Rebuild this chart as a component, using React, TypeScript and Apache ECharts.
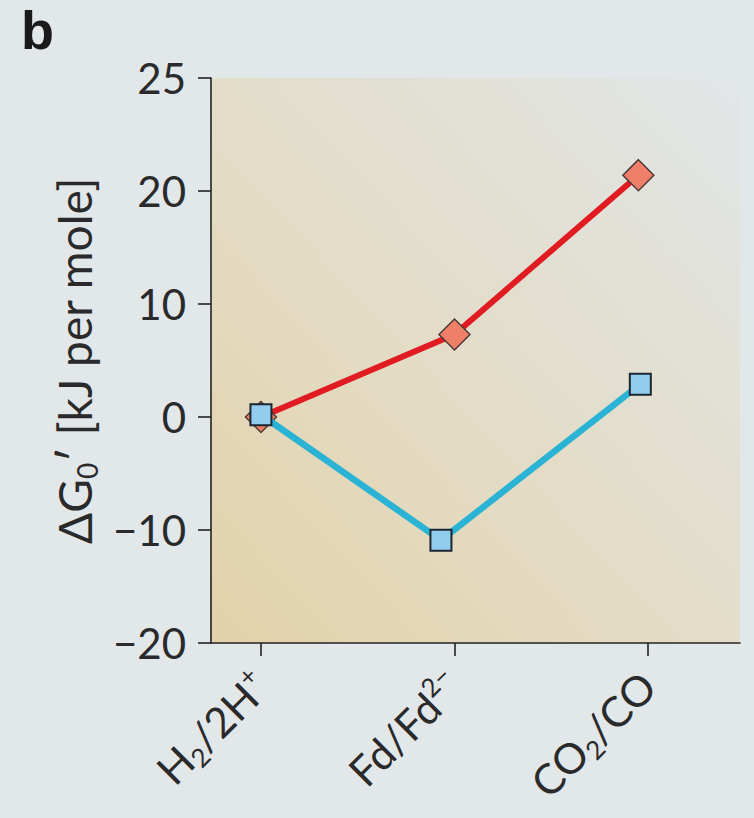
import React, { useEffect, useRef } from "react";
import * as echarts from "echarts";

// Categories (x positions 0,1,2) and their rich-text labels
const categories = ["H2/2H+", "Fd/Fd2−", "CO2/CO"];
const categoryLabels = [
  "{n|H}{sub|2}{n|/2H}{sup|+}",
  "{n|Fd/Fd}{sup|2−}",
  "{n|CO}{sub|2}{n|/CO}",
];
const categoryPositions = [0, 1, 2];

// Red series (diamonds)
const redX = [0, 1.0, 1.95];
const redY = [0, 7.3, 21.4];

// Blue series (squares)
const blueX = [0, 0.93, 1.96];
const blueY = [0.2, -10.9, 2.9];

// Y tick values and the labels printed on the figure
const yTickValues = [-20, -10, 0, 10, 20, 30];
const yTickLabels = ["−20", "−10", "0", "10", "20", "25"];

const FONT = "Lato, 'Open Sans', sans-serif";

export default function App() {
  const ref = useRef<HTMLDivElement>(null);

  useEffect(() => {
    document.body.style.margin = "0";
    document.body.style.background = "#e2e7ea";
    const chart = echarts.init(ref.current!, null, { renderer: "svg" });

    const labelRich = {
      n: { fontSize: 42, lineHeight: 50, color: "#2a2a2a", fontFamily: FONT },
      sub: { fontSize: 26, lineHeight: 26, verticalAlign: "bottom", color: "#2a2a2a", fontFamily: FONT },
      sup: { fontSize: 26, lineHeight: 26, verticalAlign: "top", color: "#2a2a2a", fontFamily: FONT },
    };

    chart.setOption({
      animation: false,
      backgroundColor: "#e2e7ea",
      grid: {
        left: 211,
        right: 14,
        top: 78,
        bottom: 175,
        show: true,
        borderWidth: 0,
        backgroundColor: new echarts.graphic.LinearGradient(0, 1, 1, 0, [
          { offset: 0, color: "#e3d2aa" },
          { offset: 0.45, color: "#e3dcc6" },
          { offset: 1, color: "#e1e6e8" },
        ]),
      },
      graphic: [
        {
          type: "text",
          left: 21,
          top: 3,
          style: {
            text: "b",
            fontSize: 54,
            fontWeight: "bold",
            fontFamily: "'Liberation Sans', Arial, sans-serif",
            fill: "#1a1a1a",
          },
        },
      ],
      xAxis: {
        type: "value",
        min: -0.258,
        max: 2.475,
        splitLine: { show: false },
        axisLine: { show: true, onZero: false, lineStyle: { color: "#222", width: 1.6 } },
        axisTick: {
          show: true,
          length: 13,
          customValues: categoryPositions,
          lineStyle: { color: "#222", width: 1.6 },
        },
        axisLabel: {
          customValues: categoryPositions,
          rotate: 45,
          margin: 36,
          formatter: (v: number) => categoryLabels[Math.round(v)] ?? "",
          rich: labelRich,
        },
      },
      yAxis: {
        type: "value",
        min: -20,
        max: 30,
        interval: 10,
        splitLine: { show: false },
        axisLine: { show: true, onZero: false, lineStyle: { color: "#222", width: 1.6 } },
        axisTick: { show: true, length: 13, lineStyle: { color: "#222", width: 1.6 } },
        axisLabel: {
          margin: 25,
          fontSize: 42,
          color: "#2a2a2a",
          fontFamily: FONT,
          formatter: (v: number) => {
            const i = yTickValues.indexOf(v);
            return i >= 0 ? yTickLabels[i] : "";
          },
        },
        name: "{n|ΔG}{sub|0}{n|′ [kJ per mole]}",
        nameLocation: "middle",
        nameRotate: 90,
        nameGap: 110,
        nameTextStyle: {
          rich: {
            n: { fontSize: 46, lineHeight: 54, color: "#2a2a2a", fontFamily: FONT },
            sub: { fontSize: 28, lineHeight: 28, verticalAlign: "bottom", color: "#2a2a2a", fontFamily: FONT },
          },
        },
      },
      series: [
        {
          name: "red",
          type: "line",
          data: redX.map((x, i) => [x, redY[i]]),
          lineStyle: { color: "#e01c22", width: 6 },
          symbol: "diamond",
          symbolSize: 31,
          itemStyle: { color: "#ef7f68", borderColor: "#4e3a36", borderWidth: 1.5 },
          z: 2,
        },
        {
          name: "blue",
          type: "line",
          data: blueX.map((x, i) => [x, blueY[i]]),
          lineStyle: { color: "#2ab3d4", width: 6.5 },
          symbol: "rect",
          symbolSize: 21,
          itemStyle: { color: "#92cdef", borderColor: "#1c2630", borderWidth: 2 },
          z: 3,
        },
      ],
    });

    return () => chart.dispose();
  }, []);

  return <div ref={ref} style={{ width: 754, height: 818 }} />;
}
